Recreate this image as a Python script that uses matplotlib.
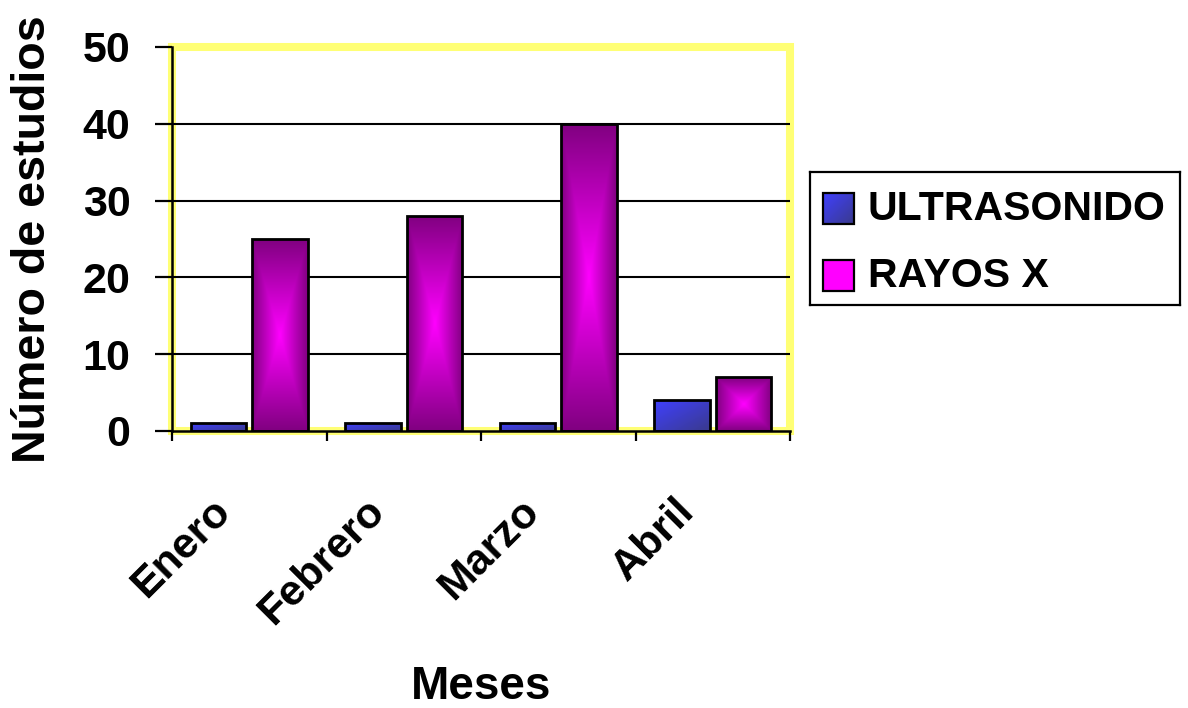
import numpy as np
import matplotlib
matplotlib.use("Agg")
import matplotlib.pyplot as plt
from matplotlib.patches import Rectangle
from matplotlib.transforms import ScaledTranslation

# Data
meses = ["Enero", "Febrero", "Marzo", "Abril"]
ultrasonido = [1, 1, 1, 4]
rayos_x = [25, 28, 40, 7]
series_names = ["ULTRASONIDO", "RAYOS X"]
y_ticks = [0, 10, 20, 30, 40, 50]

plt.rcParams["font.family"] = ["Liberation Sans", "DejaVu Sans"]
plt.rcParams["font.weight"] = "bold"

W, H = 1188, 708
fig = plt.figure(figsize=(W / 100, H / 100), dpi=100)
fig.patch.set_facecolor("white")

ax = fig.add_axes([172 / W, 1 - 431 / H, (790 - 172) / W, (431 - 47) / H])
ax.set_xlim(-0.5, len(meses) - 0.5)
ax.set_ylim(0, 50)

purple = np.array([0x80, 0x00, 0x80]) / 255
magenta = np.array([0xFF, 0x00, 0xFF]) / 255
blue_light = np.array([0x40, 0x40, 0xFF]) / 255
blue_dark = np.array([0x3A, 0x3A, 0x8C]) / 255


def center_gradient(n=200):
    u = np.linspace(-1, 1, n)
    uu, vv = np.meshgrid(u, u)
    t = np.maximum(np.abs(uu), np.abs(vv))
    return magenta[None, None, :] * (1 - t[..., None]) + purple[None, None, :] * t[..., None]


def diagonal_gradient(n=200):
    u = np.linspace(0, 1, n)
    uu, vv = np.meshgrid(u, u)
    t = (uu + vv) / 2  # row 0 is top after origin='upper'
    return blue_light[None, None, :] * (1 - t[..., None]) + blue_dark[None, None, :] * t[..., None]


x = np.arange(len(meses))
width = 0.36
offset = 0.2

grad_center = center_gradient()
grad_diag = diagonal_gradient()

bars_u = ax.bar(x - offset, ultrasonido, width, facecolor="none",
                edgecolor="black", linewidth=2.0, zorder=4)
bars_r = ax.bar(x + offset, rayos_x, width, facecolor="none",
                edgecolor="black", linewidth=2.0, zorder=4)

for bars, grad in ((bars_u, grad_diag), (bars_r, grad_center)):
    for b in bars:
        x0, y0 = b.get_x(), b.get_y()
        w, h = b.get_width(), b.get_height()
        im = ax.imshow(grad, extent=(x0, x0 + w, y0, y0 + h), origin="upper",
                       aspect="auto", interpolation="bilinear", zorder=3)
        im.set_clip_path(b)

ax.set_xlim(-0.5, len(meses) - 0.5)
ax.set_ylim(0, 50)

# Gridlines
for yv in y_ticks[1:-1]:
    ax.axhline(yv, color="black", linewidth=1.5, zorder=2)

# Yellow plot-area border
ax.add_patch(Rectangle((0, 0), 1, 1, transform=ax.transAxes, fill=False,
                       edgecolor="#FFFF75", linewidth=5.8, clip_on=False, zorder=1))

for s in ("top", "right"):
    ax.spines[s].set_visible(False)
for s in ("left", "bottom"):
    ax.spines[s].set_color("black")
    ax.spines[s].set_linewidth(1.8)
    ax.spines[s].set_zorder(5)

ax.set_yticks(y_ticks)
ax.set_yticklabels([str(v) for v in y_ticks], fontsize=31, fontweight="bold")
ax.tick_params(axis="y", direction="out", length=12, width=1.6, pad=18)

ax.set_xticks(x)
ax.set_xticks(np.arange(len(meses) + 1) - 0.5, minor=True)
ax.tick_params(axis="x", which="major", length=0, pad=59)
ax.tick_params(axis="x", which="minor", direction="out", length=7, width=1.6)
ax.set_xticklabels(meses, fontsize=31, fontweight="bold", rotation=45,
                   ha="right", va="baseline", rotation_mode="anchor")
shift = ScaledTranslation(-0.17, 0, fig.dpi_scale_trans)
for lab in ax.get_xticklabels():
    lab.set_transform(lab.get_transform() + shift)

ax.set_xlabel("Meses", fontsize=33, fontweight="bold")
ax.xaxis.set_label_coords(0.5, (431 - 699) / (431 - 47))
ax.xaxis.label.set_va("baseline")
ax.set_ylabel("Número de estudios", fontsize=33.5, fontweight="bold")
ax.yaxis.set_label_coords((33 - 172) / (790 - 172), 0.5)
ax.yaxis.label.set_va("center")

# Legend box
lg = fig.add_axes([810 / W, 1 - 305 / H, 370 / W, 133 / H])
lg.set_xlim(0, 370)
lg.set_ylim(133, 0)
lg.set_xticks([])
lg.set_yticks([])
for s in lg.spines.values():
    s.set_linewidth(1.6)
    s.set_color("black")

swatch = 31
lg.imshow(grad_diag, extent=(13, 13 + swatch, 21 + swatch, 21), aspect="auto",
          interpolation="bilinear", zorder=2)
lg.add_patch(Rectangle((13, 21), swatch, swatch, fill=False, edgecolor="black",
                       linewidth=1.6, zorder=3))
lg.add_patch(Rectangle((13, 88), swatch, swatch, facecolor="#FF00FF",
                       edgecolor="black", linewidth=1.6, zorder=3))
lg.set_xlim(0, 370)
lg.set_ylim(133, 0)
lg.text(58, 37, series_names[0], fontsize=29.5, fontweight="bold", va="center", ha="left")
lg.text(58, 104, series_names[1], fontsize=29.5, fontweight="bold", va="center", ha="left")

fig.savefig("out.png", dpi=100, facecolor="white")
